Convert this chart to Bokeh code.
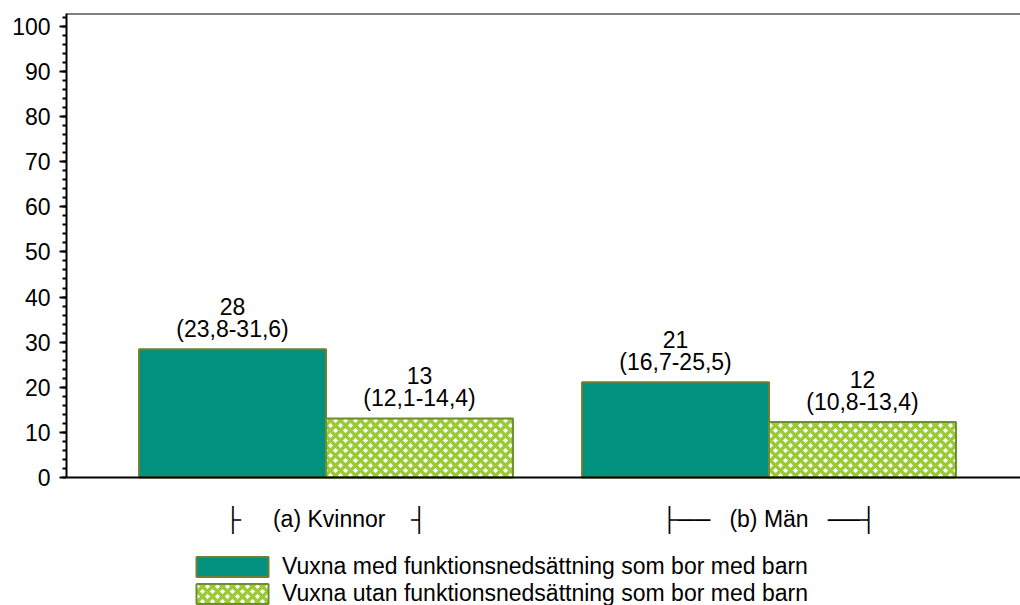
from bokeh.plotting import figure
from bokeh.models import (ColumnDataSource, Range1d, SingleIntervalTicker,
                          Span, Legend, LegendItem)
from bokeh.transform import dodge
from bokeh.core.properties import value
from bokeh.embed import file_html
from bokeh.resources import INLINE

# ---------------- data ----------------
groups = ["(a) Kvinnor", "(b) Män"]
group_pos = [1, 2]
NB = "\u00a0"
group_tick_labels = [
    "├" + NB * 5 + groups[0] + NB * 4 + "┤",
    "├──" + NB * 3 + groups[1] + NB * 3 + "──┤",
]
series_names = [
    "Vuxna med funktionsnedsättning som bor med barn",
    "Vuxna utan funktionsnedsättning som bor med barn",
]
med_values = [28.4, 21.1]
utan_values = [13.1, 12.3]
med_labels = ["28", "21"]
med_ci = ["(23,8-31,6)", "(16,7-25,5)"]
utan_labels = ["13", "12"]
utan_ci = ["(12,1-14,4)", "(10,8-13,4)"]

# ---------------- style ----------------
FONT = "Liberation Sans"
CAT_FONT = "Liberation Sans, DejaVu Sans Mono"
FS = "23px"
TEAL = "#00917f"
TEAL_EDGE = "#6e7f30"
HATCH = "#9acb34"
HATCH_EDGE = "#6f8f2c"
BAR_W = 0.422
OFF = BAR_W / 2
Y_END = 102.84
Y_START = -28.37   # room below the axis for category labels and legend

src = ColumnDataSource(dict(
    x=group_pos, med=med_values, utan=utan_values,
    med_lbl=med_labels, med_ci=med_ci, utan_lbl=utan_labels, utan_ci=utan_ci,
))
cat_src = ColumnDataSource(dict(x=group_pos, y=[0] * len(group_pos), label=group_tick_labels))

p = figure(width=1020, height=605, output_backend="svg", toolbar_location=None,
           x_range=Range1d(0.41422, 2.56772), y_range=Range1d(Y_START, Y_END),
           x_axis_location=None,
           min_border_left=66, min_border_right=0, min_border_top=13, min_border_bottom=0)
p.outline_line_color = None
p.background_fill_color = "white"
p.border_fill_color = "white"
p.xgrid.visible = False
p.ygrid.visible = False

r_med = p.vbar(x=dodge("x", -OFF, range=p.x_range), top="med", width=BAR_W, bottom=0,
               source=src, fill_color=TEAL, line_color=TEAL_EDGE, line_width=2)
r_utan = p.vbar(x=dodge("x", OFF, range=p.x_range), top="utan", width=BAR_W, bottom=0,
                source=src, fill_color="white", line_color=HATCH_EDGE, line_width=2,
                hatch_pattern="diagonal_cross", hatch_color=HATCH, hatch_scale=10,
                hatch_weight=3.5)

for col_v, lbl, ci, off in (("med", "med_lbl", "med_ci", -OFF), ("utan", "utan_lbl", "utan_ci", OFF)):
    p.text(x=dodge("x", off, range=p.x_range), y=col_v, text=ci, source=src,
           text_align="center", text_baseline="bottom", y_offset=-7,
           text_font=value(FONT), text_font_size=FS, text_color="black")
    p.text(x=dodge("x", off, range=p.x_range), y=col_v, text=lbl, source=src,
           text_align="center", text_baseline="bottom", y_offset=-34,
           text_font=value(FONT), text_font_size=FS, text_color="black")

# frame lines: top border and x axis line at 0
p.add_layout(Span(location=Y_END, dimension="width", line_color="black", line_width=2))
p.add_layout(Span(location=0, dimension="width", line_color="black", line_width=2))

# category (x axis) labels
p.text(x="x", y="y", text="label", source=cat_src, text_align="center",
       text_baseline="middle", y_offset=42,
       text_font=value(CAT_FONT), text_font_size=FS, text_color="black")

# y axis
ya = p.yaxis[0]
ya.ticker = SingleIntervalTicker(interval=10, num_minor_ticks=5)
ya.bounds = (0, Y_END)
ya.axis_line_width = 2
ya.axis_line_color = "black"
ya.major_tick_line_width = 2
ya.major_tick_out = 7
ya.major_tick_in = 0
ya.minor_tick_line_width = 2
ya.minor_tick_out = 4
ya.minor_tick_in = 0
ya.major_label_standoff = 9
ya.major_label_text_font = FONT
ya.major_label_text_font_size = FS
ya.major_label_text_color = "black"

legend = Legend(items=[LegendItem(label=series_names[0], renderers=[r_med]),
                       LegendItem(label=series_names[1], renderers=[r_utan])],
                location=(121, -2), orientation="vertical",
                glyph_width=90, glyph_height=25, label_standoff=5,
                label_text_font=FONT, label_text_font_size=FS, label_text_color="black",
                label_height=24, spacing=0, padding=0, margin=0,
                border_line_color=None, background_fill_alpha=0)
p.add_layout(legend)

open("out.html", "w").write(file_html(p, INLINE))
